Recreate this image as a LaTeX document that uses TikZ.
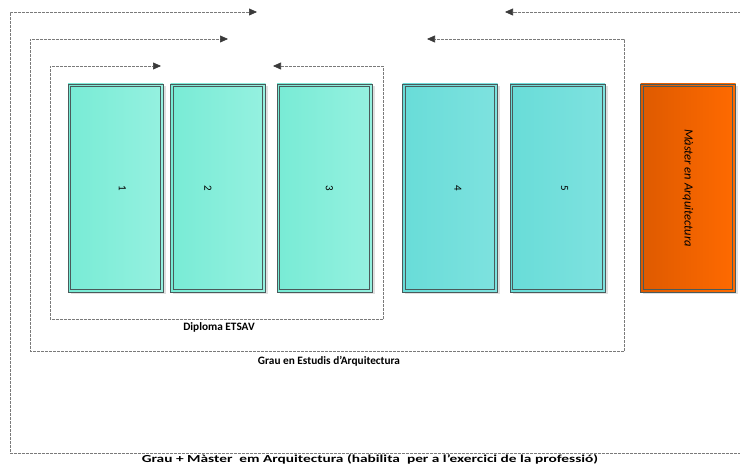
\documentclass[tikz,border=0pt]{standalone}
\usepackage{fontspec}
\setmainfont{Carlito}
\usetikzlibrary{arrows.meta,shadows}

\definecolor{frameGray}{HTML}{7A7A7A}
\definecolor{tipGray}{HTML}{3A3A3A}
\definecolor{edgeGray}{HTML}{4A5A5A}
\definecolor{aquaL}{HTML}{78EBD5}
\definecolor{aquaR}{HTML}{95F1E0}
\definecolor{tealL}{HTML}{68DCD8}
\definecolor{tealR}{HTML}{7EE2DF}
\definecolor{orangeL}{HTML}{DE5A00}
\definecolor{orangeR}{HTML}{FF6A00}

\tikzset{
  course/.style={draw=edgeGray, line width=0.8pt,
    minimum width=95pt, minimum height=208pt, inner sep=0pt,
    shading=axis, shading angle=90,
    drop shadow={shadow xshift=2.5pt, shadow yshift=-2.5pt, fill=black!12, opacity=1}},
  inner/.style={draw=edgeGray, line width=0.7pt},
  frame/.style={draw=frameGray, line width=0.6pt, dash pattern=on 2.6pt off 1.4pt,
    -{Triangle[length=8pt,width=7pt,fill=tipGray,color=tipGray]}},
  lbl/.style={font=\bfseries\fontsize{11.3}{13}\selectfont},
  num/.style={rotate=-90, font=\fontsize{11}{12}\selectfont}
}

\begin{document}
\begin{tikzpicture}[x=1pt, y=-1pt]
    \useasboundingbox (0,0) rectangle (740,465);

    % Courses
    \node[course, left color=aquaL, right color=aquaR] (c1) at (115.5,188) {};
    \node[course, left color=aquaL, right color=aquaR] (c2) at (218,188) {};
    \node[course, left color=aquaL, right color=aquaR] (c3) at (324.5,188) {};
    \node[course, left color=tealL, right color=tealR] (c4) at (450,188) {};
    \node[course, left color=tealL, right color=tealR] (c5) at (557.5,188) {};
    \node[course, left color=orangeL, right color=orangeR] (m) at (688,188) {};
    \foreach \b in {c1,c2,c3,c4,c5,m}
        \draw[inner] ([shift={(3.2,3.2)}]\b.north west) rectangle ([shift={(-3.2,-3.2)}]\b.south east);

    \node[num] (t1) at ([xshift=7pt]c1.center) {1};
    \node[num] (t2) at ([xshift=-10pt]c2.center) {2};
    \node[num] (t3) at ([xshift=5pt]c3.center) {3};
    \node[num] (t4) at ([xshift=8pt]c4.center) {4};
    \node[num] (t5) at ([xshift=7pt]c5.center) {5};
    \node[num, font=\itshape\fontsize{12.5}{14}\selectfont] (tm) at (m.center) {Màster en Arquitectura};

    % Diploma ETSAV
    \coordinate (dA) at (161,66);
    \coordinate (dB) at (50,319);
    \coordinate (dC) at (383,319);
    \coordinate (dD) at (273,66);
    \draw[frame] (dC) -- (dB) |- (dA);
    \draw[frame] (dC) |- (dD);
    \node[lbl] (dl) at (219,327) {Diploma ETSAV};

    % Grau
    \coordinate (gA) at (228,39);
    \coordinate (gB) at (30,351);
    \coordinate (gC) at (624,351);
    \coordinate (gD) at (427,39);
    \draw[frame] (gC) -- (gB) |- (gA);
    \draw[frame] (gC) |- (gD);
    \node[lbl] (gl) at (329,361) {Grau en Estudis d’Arquitectura};

    % Grau + Master
    \coordinate (oA) at (257,12);
    \coordinate (oB) at (10,453);
    \coordinate (oC) at (741,453);
    \coordinate (oE) at (741,12);
    \coordinate (oD) at (505,12);
    \draw[frame] (oC) -- (oB) |- (oA);
    \draw[frame] (oE) -- (oD);
    \node[lbl, xscale=1.36, yscale=0.95] (ol) at (370,459.3) {Grau + Màster\ \ em Arquitectura (habilita\ \ per a l’exercici de la professió)};
\end{tikzpicture}
\end{document}
